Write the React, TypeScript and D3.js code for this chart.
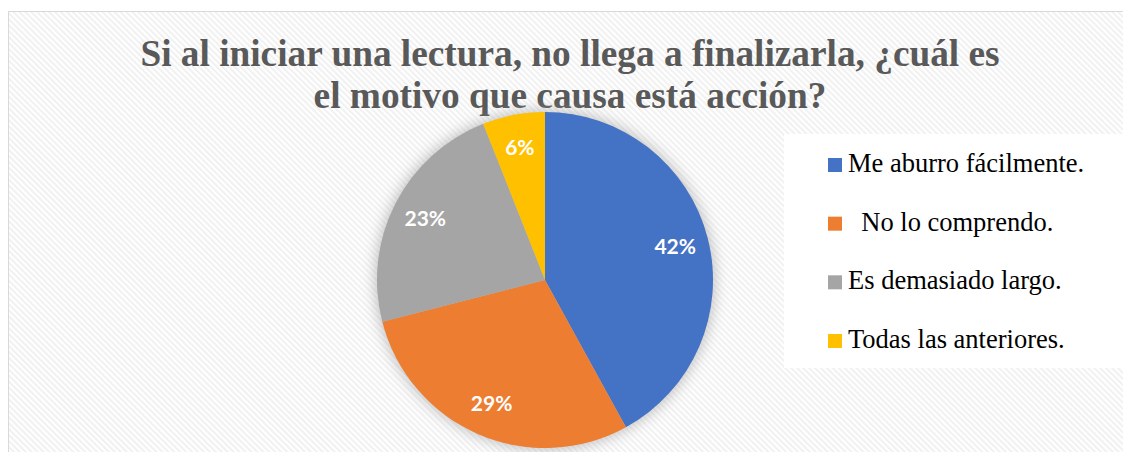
import React from "react";
import * as d3 from "d3";

const categories = ["Me aburro fácilmente.", "  No lo comprendo.", "Es demasiado largo.", "Todas las anteriores."];
const values = [42, 29, 23, 6];
const colors = ["#4472C4", "#ED7D31", "#A5A5A5", "#FFC000"];
const titleLines = ["Si al iniciar una lectura, no llega a finalizarla, ¿cuál es", "el motivo que causa está acción?"];

export default function App() {
  const W = 1123, H = 452;
  const cx = 545, cy = 280, R = 168;
  const pie = d3.pie<number>().sort(null).value((d) => d)(values);
  const arc = d3.arc<d3.PieArcDatum<number>>().innerRadius(0).outerRadius(R);
  const labelArc = d3.arc<d3.PieArcDatum<number>>().innerRadius(R * 0.8).outerRadius(R * 0.8);
  const total = d3.sum(values);
  const legendY = d3.scaleLinear().domain([0, 3]).range([165, 341]);

  return (
    <svg width={W} height={H} style={{ position: "absolute", left: 0, top: 0 }}>
      <defs>
        <pattern id="stripes" patternUnits="userSpaceOnUse" width="4.2" height="6" patternTransform="rotate(-45)">
          <rect width="4.2" height="6" fill="#ffffff" />
          <rect width="2.1" height="6" fill="#f1f1f1" />
        </pattern>
        <filter id="glow" x="-30%" y="-30%" width="160%" height="160%">
          <feGaussianBlur stdDeviation="7" />
        </filter>
      </defs>
      <rect x={8.5} y={11.5} width={1130} height={460} fill="url(#stripes)" stroke="#d9d9d9" strokeWidth={1} />
      <g fontFamily="'Liberation Serif', 'Times New Roman', serif" fontWeight="bold" fontSize={37.3} fill="#595959" textAnchor="middle">
        {titleLines.map((t, i) => (
          <text key={i} x={570} y={66 + i * 42}>{t}</text>
        ))}
      </g>
      <circle cx={cx} cy={cy} r={R + 2} fill="#9a9a9a" opacity={0.6} filter="url(#glow)" />
      <g transform={`translate(${cx},${cy})`}>
        {pie.map((p, i) => (
          <path key={i} d={arc(p) || ""} fill={colors[i]} />
        ))}
        {pie.map((p, i) => {
          const [x, y] = labelArc.centroid(p);
          return (
            <text key={i} x={x} y={y} dy="0.35em" textAnchor="middle" fontFamily="Lato, 'Open Sans', sans-serif" fontWeight="bold" fontSize={21} fill="#ffffff">
              {Math.round((values[i] / total) * 100)}%
            </text>
          );
        })}
      </g>
      <rect x={784} y={134} width={339} height={234} fill="#ffffff" />
      <g fontFamily="'Liberation Serif', 'Times New Roman', serif" fontSize={26.5} fill="#000000">
        {categories.map((c, i) => (
          <g key={i}>
            <rect x={828} y={legendY(i) - 7} width={14} height={14} fill={colors[i]} />
            <text x={848} y={legendY(i) + 7} style={{ whiteSpace: "pre" }}>{c}</text>
          </g>
        ))}
      </g>
    </svg>
  );
}
